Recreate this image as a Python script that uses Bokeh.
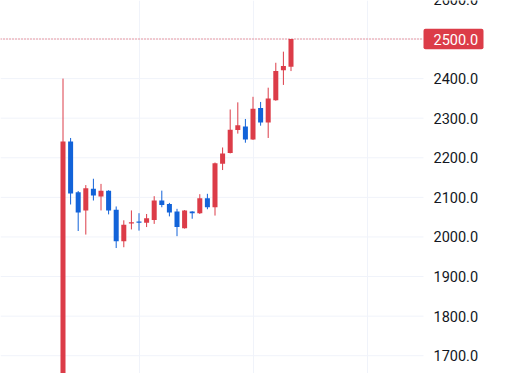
from bokeh.plotting import figure
from bokeh.models import ColumnDataSource, Range1d, FixedTicker
from bokeh.core.properties import value
from bokeh.embed import file_html
from bokeh.resources import INLINE

# OHLC data
opens  = [1600, 2241, 2113, 2067, 2122, 2102, 2117, 2069, 1989, 2034, 2039, 2036, 2043, 2092, 2083, 2064,
          2022, 2064, 2060, 2098, 2075, 2185, 2212, 2270, 2279, 2246, 2326, 2289, 2345, 2421, 2430]
highs  = [2400, 2250, 2116, 2131, 2147, 2134, 2118, 2077, 2042, 2067, 2060, 2058, 2103, 2117, 2086, 2071,
          2068, 2065, 2108, 2109, 2188, 2226, 2322, 2340, 2298, 2354, 2341, 2377, 2440, 2468, 2500]
lows   = [1600, 2082, 2015, 2006, 2092, 2067, 2057, 1972, 1974, 2019, 2016, 2025, 2033, 2075, 2052, 2002,
          2021, 2046, 2058, 2070, 2054, 2169, 2211, 2261, 2238, 2245, 2281, 2250, 2344, 2384, 2419]
closes = [2241, 2110, 2062, 2123, 2105, 2117, 2067, 1989, 2031, 2037, 2036, 2047, 2092, 2081, 2062, 2025,
          2067, 2060, 2098, 2075, 2186, 2211, 2271, 2282, 2246, 2324, 2289, 2350, 2419, 2432, 2500]
price_ticks = [1700, 1800, 1900, 2000, 2100, 2200, 2300, 2400, 2600]
time_grid = [10, 25, 40]

UP = "#dc3c48"
DOWN = "#1263d9"
GRID = "#f0f3fa"
TEXT = "#131722"

W, H = 507, 373
PX_PER_BAR = 7.6          # horizontal pixels per bar
FIRST_BAR_PX = 62.5       # pixel position of first bar
PANE_PX = 423             # width of the price pane (price scale to its right)
PX_PER_UNIT = 0.3959      # vertical pixels per price unit
Y_MAX = 2500 + 38.5 / PX_PER_UNIT
Y_MIN = Y_MAX - H / PX_PER_UNIT

x0 = -FIRST_BAR_PX / PX_PER_BAR
x1 = x0 + W / PX_PER_BAR
def px_to_x(px):
    return x0 + px / PX_PER_BAR

pane_right = px_to_x(PANE_PX)
label_x = px_to_x(PANE_PX + 10)

idx = list(range(len(opens)))
colors = [UP if c >= o else DOWN for o, c in zip(opens, closes)]
tops = [max(o, c) for o, c in zip(opens, closes)]
bots = [min(o, c) for o, c in zip(opens, closes)]
src = ColumnDataSource(dict(x=idx, o=opens, h=highs, l=lows, c=closes, top=tops, bot=bots, color=colors))

p = figure(width=W, height=H, output_backend="svg", toolbar_location=None, title=None,
           x_axis_location=None, y_axis_location=None,
           x_range=Range1d(x0, x1), y_range=Range1d(Y_MIN, Y_MAX),
           min_border_left=0, min_border_right=0, min_border_top=0, min_border_bottom=0)
p.outline_line_color = None
p.background_fill_color = "white"
p.border_fill_color = "white"

p.xgrid.ticker = FixedTicker(ticks=time_grid)
p.xgrid.grid_line_color = GRID
p.ygrid.grid_line_color = None

# horizontal grid lines in the price pane
grid_src = ColumnDataSource(dict(y=price_ticks + [2500],
                                 x0=[x0] * (len(price_ticks) + 1),
                                 x1=[pane_right] * (len(price_ticks) + 1)))
p.segment(x0="x0", y0="y", x1="x1", y1="y", line_color=GRID, line_width=1, source=grid_src)

# price scale labels
lab_src = ColumnDataSource(dict(x=[label_x] * len(price_ticks), y=price_ticks,
                                t=["%.1f" % t for t in price_ticks]))
p.text(x="x", y="y", text="t", text_font=value("Roboto"), text_font_size="14.5px",
       text_color=TEXT, text_align="left", text_baseline="middle", source=lab_src)

# candles
p.segment(x0="x", y0="l", x1="x", y1="h", line_color="color", line_width=1, source=src)
p.vbar(x="x", width=0.66, top="top", bottom="bot", fill_color="color", line_color=None, source=src)

# last price line and label
last = closes[-1]
p.segment(x0=[x0], y0=[last], x1=[pane_right], y1=[last], line_color=UP, line_dash="1 2", line_width=1)
half_h = 10.2 / PX_PER_UNIT
p.quad(left=[pane_right], right=[px_to_x(PANE_PX + 60)], top=[last + half_h], bottom=[last - half_h],
       fill_color=UP, line_color=None, border_radius=2)
p.text(x=[label_x], y=[last], text=["%.1f" % last], text_font=value("Roboto"), text_font_size="14.5px",
       text_color="white", text_align="left", text_baseline="middle")

open("out.html", "w").write(file_html(p, INLINE))
